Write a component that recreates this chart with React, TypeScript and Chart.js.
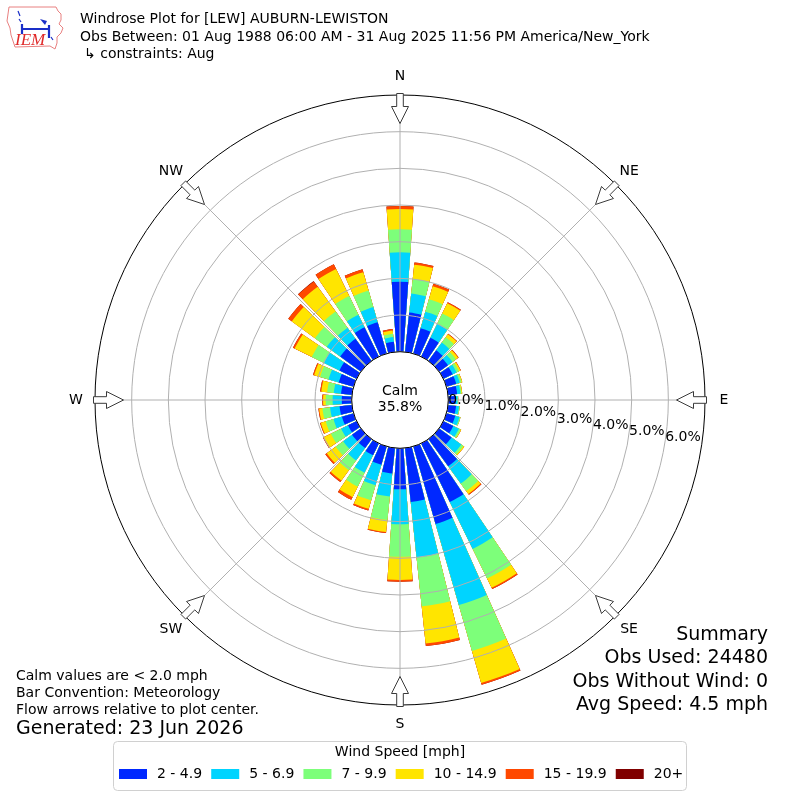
import React, { useEffect, useRef } from "react";
import { Chart, registerables } from "chart.js";

Chart.register(...registerables);

// ---------------- data ----------------
const DIRECTIONS = [0, 10, 20, 30, 40, 50, 60, 70, 80, 90, 100, 110, 120, 130, 140, 150, 160, 170,
  180, 190, 200, 210, 220, 230, 240, 250, 260, 270, 280, 290, 300, 310, 320, 330, 340, 350];

const SPEED_BINS = ["2 - 4.9", "5 - 6.9", "7 - 9.9", "10 - 14.9", "15 - 19.9", "20+"];
const BIN_COLORS = ["#0028ff", "#00d4ff", "#7dff7a", "#ffe500", "#ff4800", "#800000"];

// percent of observations per direction and speed bin
const PCT_2_5 = [1.91, 1.08, 0.72, 0.57, 0.36, 0.30, 0.28, 0.28, 0.25, 0.20, 0.22, 0.25, 0.30, 0.42, 0.92, 1.78, 2.20, 1.48,
  1.12, 0.70, 0.52, 0.36, 0.30, 0.30, 0.26, 0.33, 0.34, 0.27, 0.30, 0.42, 0.52, 0.70, 0.75, 0.89, 0.89, 0.28];
const PCT_5_7 = [0.80, 0.52, 0.47, 0.42, 0.26, 0.15, 0.12, 0.10, 0.09, 0.05, 0.08, 0.12, 0.17, 0.33, 0.58, 1.42, 2.30, 1.52,
  0.95, 0.63, 0.58, 0.53, 0.42, 0.30, 0.21, 0.24, 0.26, 0.25, 0.20, 0.29, 0.47, 0.45, 0.37, 0.38, 0.43, 0.13];
const PCT_7_10 = [0.63, 0.40, 0.35, 0.32, 0.18, 0.12, 0.07, 0.05, 0.03, 0.02, 0.02, 0.03, 0.05, 0.07, 0.25, 0.90, 1.30, 1.34,
  0.89, 0.64, 0.43, 0.42, 0.33, 0.25, 0.31, 0.22, 0.21, 0.19, 0.18, 0.24, 0.37, 0.40, 0.55, 0.57, 0.47, 0.09];
const PCT_10_15 = [0.55, 0.39, 0.37, 0.31, 0.10, 0.07, 0.05, 0.02, 0.02, 0.00, 0.00, 0.00, 0.02, 0.03, 0.10, 0.28, 0.91, 1.02,
  0.63, 0.33, 0.24, 0.32, 0.35, 0.30, 0.22, 0.14, 0.09, 0.07, 0.16, 0.17, 0.52, 0.78, 0.83, 0.82, 0.52, 0.09];
const PCT_15_20 = [0.08, 0.06, 0.07, 0.03, 0.02, 0.02, 0.01, 0.00, 0.00, 0.00, 0.00, 0.00, 0.00, 0.00, 0.03, 0.04, 0.05, 0.07,
  0.05, 0.03, 0.05, 0.08, 0.05, 0.05, 0.02, 0.02, 0.02, 0.02, 0.03, 0.03, 0.05, 0.12, 0.18, 0.14, 0.08, 0.04];
const PCT_20_UP = [0.00, 0.00, 0.00, 0.00, 0.00, 0.00, 0.00, 0.00, 0.00, 0.00, 0.00, 0.00, 0.00, 0.00, 0.00, 0.00, 0.00, 0.00,
  0.00, 0.00, 0.00, 0.00, 0.00, 0.00, 0.00, 0.00, 0.00, 0.00, 0.00, 0.00, 0.00, 0.00, 0.01, 0.00, 0.00, 0.00];

const BIN_VALUES = [PCT_2_5, PCT_5_7, PCT_7_10, PCT_10_15, PCT_15_20, PCT_20_UP];

const RING_TICKS = [0, 1, 2, 3, 4, 5, 6, 7];
const RING_LABELS = ["0.0%", "1.0%", "2.0%", "3.0%", "4.0%", "5.0%", "6.0%"];
const COMPASS_LABELS = ["N", "NE", "E", "SE", "S", "SW", "W", "NW"];
const COMPASS_ANGLES = [0, 45, 90, 135, 180, 225, 270, 315];

const CALM_LABEL = "Calm";
const CALM_PERCENT = "35.8%";
const TITLE_LINES = [
  "Windrose Plot for [LEW] AUBURN-LEWISTON",
  "Obs Between: 01 Aug 1988 06:00 AM - 31 Aug 2025 11:56 PM America/New_York",
  "\u21b3 constraints: Aug",
];
const FOOTNOTES = ["Calm values are < 2.0 mph", "Bar Convention: Meteorology", "Flow arrows relative to plot center."];
const GENERATED = "Generated: 23 Jun 2026";
const SUMMARY_LINES = ["Summary", "Obs Used: 24480", "Obs Without Wind: 0", "Avg Speed: 4.5 mph"];
const LEGEND_TITLE = "Wind Speed [mph]";

// scale setup: value 0 sits on the calm circle, 7% is the outer ring
const R_MIN = -1.317;
const R_MAX = 7;
const BAR_DEG = 8;
const GAP_DEG = 2;

const FONT = '"DejaVu Sans", sans-serif';

function drawArrow(ctx: CanvasRenderingContext2D, cx: number, cy: number, R: number, deg: number) {
  const t = (deg * Math.PI) / 180;
  const r0 = R + 1.5, r1 = R - 11.5, r2 = R - 28.5;
  const sw = 3.3, hw = 8.5;
  const pts: [number, number][] = [[r0, -sw], [r1, -sw], [r1, -hw], [r2, 0], [r1, hw], [r1, sw], [r0, sw]];
  ctx.beginPath();
  pts.forEach(([r, p], i) => {
    const x = cx + r * Math.sin(t) + p * Math.cos(t);
    const y = cy - r * Math.cos(t) + p * Math.sin(t);
    if (i === 0) ctx.moveTo(x, y); else ctx.lineTo(x, y);
  });
  ctx.closePath();
  ctx.fillStyle = "#ffffff";
  ctx.fill();
  ctx.strokeStyle = "#3a3a3a";
  ctx.lineWidth = 1;
  ctx.stroke();
}

function drawLogo(ctx: CanvasRenderingContext2D) {
  ctx.save();
  const pts = [[9, 7], [56, 7], [58, 11], [61, 14], [61, 20], [59, 24], [63, 28], [61, 33], [57, 37], [57, 43], [55, 49],
    [50, 46], [15, 47], [13, 41], [11, 35], [10, 28], [7, 21], [8, 14]];
  ctx.beginPath();
  pts.forEach(([x, y], i) => (i === 0 ? ctx.moveTo(x, y) : ctx.lineTo(x, y)));
  ctx.closePath();
  ctx.fillStyle = "#ffffff";
  ctx.fill();
  ctx.strokeStyle = "#e88080";
  ctx.lineWidth = 1;
  ctx.stroke();
  // blue instrument glyph
  ctx.strokeStyle = "#1a2fc8";
  ctx.fillStyle = "#1a2fc8";
  ctx.lineWidth = 2.2;
  ctx.beginPath();
  ctx.moveTo(21, 29); ctx.lineTo(50, 29);
  ctx.moveTo(22, 24); ctx.lineTo(22, 34);
  ctx.moveTo(49, 25); ctx.lineTo(49, 38);
  ctx.stroke();
  ctx.lineWidth = 1.2;
  ctx.beginPath();
  ctx.moveTo(18, 11); ctx.lineTo(20, 16);
  ctx.moveTo(19, 19); ctx.lineTo(21, 22);
  ctx.moveTo(51, 37); ctx.lineTo(53, 40);
  ctx.stroke();
  ctx.beginPath();
  ctx.moveTo(40, 19); ctx.lineTo(47, 21); ctx.lineTo(45, 25); ctx.closePath();
  ctx.fill();
  ctx.fillStyle = "#e02828";
  ctx.font = 'italic 17px "Liberation Serif", "DejaVu Serif", serif';
  ctx.textAlign = "left";
  ctx.textBaseline = "alphabetic";
  ctx.fillText("IEM", 15, 45);
  ctx.restore();
}

const windrosePlugin = {
  id: "windroseDecor",
  afterDatasetsDraw(chart: any) {
    const s = chart.scales.r;
    const ctx: CanvasRenderingContext2D = chart.ctx;
    ctx.save();
    ctx.strokeStyle = "#b0b0b0";
    ctx.lineWidth = 1;
    COMPASS_ANGLES.forEach((a) => {
      const t = (a * Math.PI) / 180;
      ctx.beginPath();
      ctx.moveTo(s.xCenter, s.yCenter);
      ctx.lineTo(s.xCenter + s.drawingArea * Math.sin(t), s.yCenter - s.drawingArea * Math.cos(t));
      ctx.stroke();
    });
    ctx.restore();
  },
  afterDraw(chart: any) {
    const s = chart.scales.r;
    const ctx: CanvasRenderingContext2D = chart.ctx;
    const cx = s.xCenter, cy = s.yCenter, R = s.drawingArea;
    const d0 = s.getDistanceFromCenterForValue(0);
    ctx.save();

    // calm circle
    ctx.beginPath();
    ctx.arc(cx, cy, d0, 0, Math.PI * 2);
    ctx.fillStyle = "#ffffff";
    ctx.fill();
    ctx.strokeStyle = "#000000";
    ctx.lineWidth = 1;
    ctx.stroke();

    ctx.fillStyle = "#000";
    ctx.font = `14px ${FONT}`;
    ctx.textAlign = "center";
    ctx.textBaseline = "middle";
    ctx.fillText(CALM_LABEL, cx, cy - 9);
    ctx.fillText(CALM_PERCENT, cx, cy + 7);

    // ring labels
    const la = (9.7 * Math.PI) / 180;
    ctx.textAlign = "left";
    RING_LABELS.forEach((lab, i) => {
      const dv = s.getDistanceFromCenterForValue(RING_TICKS[i]) - d0;
      ctx.fillText(lab, cx + d0 + dv * Math.cos(la), cy + dv * Math.sin(la) + 0.5);
    });

    // arrows and compass labels
    COMPASS_ANGLES.forEach((a, i) => {
      drawArrow(ctx, cx, cy, R, a);
      const t = (a * Math.PI) / 180;
      const rl = R + 19;
      ctx.fillStyle = "#000";
      ctx.font = `14px ${FONT}`;
      ctx.textAlign = "center";
      ctx.textBaseline = "middle";
      ctx.fillText(COMPASS_LABELS[i], cx + rl * Math.sin(t), cy - rl * Math.cos(t));
    });

    // header
    drawLogo(ctx);
    ctx.fillStyle = "#000";
    ctx.font = `14px ${FONT}`;
    ctx.textAlign = "left";
    ctx.textBaseline = "middle";
    ctx.fillText(TITLE_LINES[0], 80, 19);
    ctx.fillText(TITLE_LINES[1], 80, 37);
    ctx.fillText(TITLE_LINES[2], 84, 54);

    // footnotes
    FOOTNOTES.forEach((f, i) => ctx.fillText(f, 16, 676 + i * 17));
    ctx.font = `19px ${FONT}`;
    ctx.fillText(GENERATED, 16, 729);

    // summary
    ctx.textAlign = "right";
    SUMMARY_LINES.forEach((l, i) => ctx.fillText(l, 768, 635 + i * 23.5));

    // legend
    const bx = 113.5, by = 741.5, bw = 573, bh = 49, rad = 4;
    ctx.beginPath();
    ctx.moveTo(bx + rad, by);
    ctx.lineTo(bx + bw - rad, by);
    ctx.arcTo(bx + bw, by, bx + bw, by + rad, rad);
    ctx.lineTo(bx + bw, by + bh - rad);
    ctx.arcTo(bx + bw, by + bh, bx + bw - rad, by + bh, rad);
    ctx.lineTo(bx + rad, by + bh);
    ctx.arcTo(bx, by + bh, bx, by + bh - rad, rad);
    ctx.lineTo(bx, by + rad);
    ctx.arcTo(bx, by, bx + rad, by, rad);
    ctx.closePath();
    ctx.fillStyle = "#ffffff";
    ctx.fill();
    ctx.strokeStyle = "#d0d0d0";
    ctx.lineWidth = 1;
    ctx.stroke();

    ctx.fillStyle = "#000";
    ctx.font = `14px ${FONT}`;
    ctx.textAlign = "center";
    ctx.fillText(LEGEND_TITLE, 400, 752);
    ctx.textAlign = "left";
    let x = 119;
    SPEED_BINS.forEach((name, k) => {
      ctx.fillStyle = BIN_COLORS[k];
      ctx.fillRect(x, 769, 28, 10);
      ctx.fillStyle = "#000";
      ctx.fillText(name, x + 38, 774);
      x += 38 + ctx.measureText(name).width + 9.1;
    });

    ctx.restore();
  },
};

export default function App() {
  const ref = useRef<HTMLCanvasElement>(null);

  useEffect(() => {
    const canvas = ref.current;
    if (!canvas) return;

    const labels: string[] = [];
    DIRECTIONS.forEach((d) => {
      labels.push(String(d));
      labels.push("");
    });

    const datasets = SPEED_BINS.map((name, k) => {
      const data: number[] = [];
      DIRECTIONS.forEach((_, i) => {
        let c = 0;
        for (let j = 0; j <= k; j++) c += BIN_VALUES[j][i];
        data.push(c);
        data.push(0);
      });
      return {
        label: name,
        data,
        backgroundColor: data.map((_, idx) => (idx % 2 === 0 ? BIN_COLORS[k] : "rgba(0,0,0,0)")),
        borderWidth: 0,
        angle: data.map((_, idx) => (idx % 2 === 0 ? BAR_DEG : GAP_DEG)),
      };
    });

    const chart = new Chart(canvas, {
      type: "polarArea",
      data: { labels, datasets } as any,
      options: {
        responsive: false,
        animation: false,
        events: [],
        layout: { padding: 95 },
        plugins: { legend: { display: false }, tooltip: { enabled: false } },
        scales: {
          r: {
            type: "radialLinear",
            min: R_MIN,
            max: R_MAX,
            startAngle: -BAR_DEG / 2,
            afterBuildTicks: (scale: any) => {
              scale.ticks = RING_TICKS.map((v) => ({ value: v }));
            },
            ticks: { display: false },
            grid: {
              z: 1,
              circular: true,
              color: (c: any) => (c.tick && c.tick.value === R_MAX ? "#000000" : "#b0b0b0"),
              lineWidth: 1,
            },
            angleLines: { display: false },
            pointLabels: { display: false },
          } as any,
        },
      } as any,
      plugins: [windrosePlugin],
    });

    return () => chart.destroy();
  }, []);

  return (
    <div style={{ position: "absolute", left: 0, top: 0, width: 800, height: 800, background: "#fff" }}>
      <canvas ref={ref} width={800} height={800} style={{ display: "block", width: 800, height: 800 }} />
    </div>
  );
}
